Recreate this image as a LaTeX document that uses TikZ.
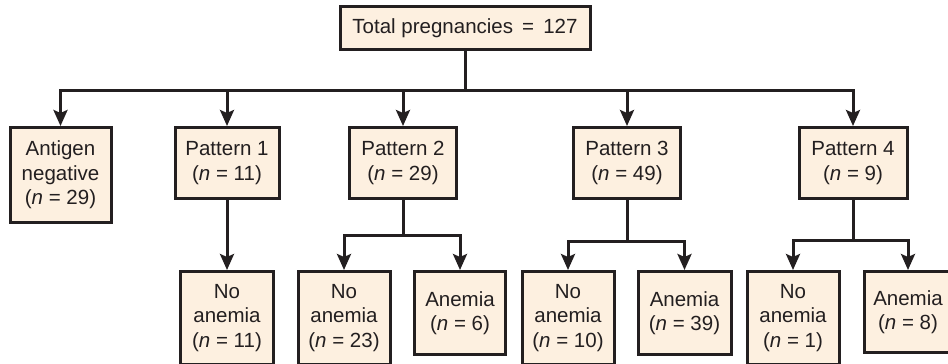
\documentclass[tikz,border=0pt]{standalone}
\usepackage{fontspec}
\setmainfont{Liberation Sans}
\usetikzlibrary{arrows.meta}
\definecolor{peach}{RGB}{253,240,224}
\definecolor{ink}{RGB}{35,31,32}

\begin{document}
\begin{tikzpicture}[x=1pt,y=-1pt,
    box/.style={rectangle,draw=ink,line width=3pt,fill=peach,anchor=north,
      align=center,font=\fontsize{20.5pt}{24.5pt}\selectfont,text=ink,inner sep=2pt},
    arr/.style={draw=ink,line width=3pt,-{Stealth[length=16pt,width=14pt,inset=3pt]}}]
  \useasboundingbox (0,0) rectangle (948,364);

  % Root
  \node[box,minimum width=250pt,minimum height=43pt] (total) at (465,5) {Total pregnancies \,=\, 127};

  % Antigen status and patterns
  \node[box,minimum width=101pt,minimum height=95pt] (antigen) at (60.5,126) {Antigen\\negative\\(\textit{n} = 29)};
  \node[box,minimum width=104pt,minimum height=71pt] (pat1) at (227,126) {Pattern 1\\(\textit{n} = 11)};
  \node[box,minimum width=107pt,minimum height=71pt] (pat2) at (403,126) {Pattern 2\\(\textit{n} = 29)};
  \node[box,minimum width=107pt,minimum height=71pt] (pat3) at (627,126) {Pattern 3\\(\textit{n} = 49)};
  \node[box,minimum width=108pt,minimum height=71pt] (pat4) at (853,126) {Pattern 4\\(\textit{n} = 9)};

  % Outcomes
  \node[box,minimum width=93pt,minimum height=93pt] (none1) at (227,270) {No\\anemia\\(\textit{n} = 11)};
  \node[box,minimum width=92pt,minimum height=93pt] (none2) at (344,270) {No\\anemia\\(\textit{n} = 23)};
  \node[box,minimum width=91pt,minimum height=83pt] (anem2) at (460,270) {Anemia\\(\textit{n} = 6)};
  \node[box,minimum width=92pt,minimum height=93pt] (none3) at (568,270) {No\\anemia\\(\textit{n} = 10)};
  \node[box,minimum width=93pt,minimum height=83pt] (anem3) at (684.5,270) {Anemia\\(\textit{n} = 39)};
  \node[box,minimum width=92pt,minimum height=93pt] (none4) at (793,270) {No\\anemia\\(\textit{n} = 1)};
  \node[box,minimum width=88pt,minimum height=81pt] (anem4) at (908,270) {Anemia\\(\textit{n} = 8)};

  % Branches from the root
  \foreach \child in {antigen,pat1,pat2,pat3,pat4}
    \draw[arr] (total.south) -- ++(0,39) -| (\child.north);

  % Branches to outcomes
  \draw[arr] (pat1.south) -- (none1.north);
  \draw[arr] (pat2.south) -- ++(0,35) -| (none2.north);
  \draw[arr] (pat2.south) -- ++(0,35) -| (anem2.north);
  \draw[arr] (pat3.south) -- ++(0,41) -| (none3.north);
  \draw[arr] (pat3.south) -- ++(0,41) -| (anem3.north);
  \draw[arr] (pat4.south) -- ++(0,40) -| (none4.north);
  \draw[arr] (pat4.south) -- ++(0,40) -| (anem4.north);
\end{tikzpicture}
\end{document}
